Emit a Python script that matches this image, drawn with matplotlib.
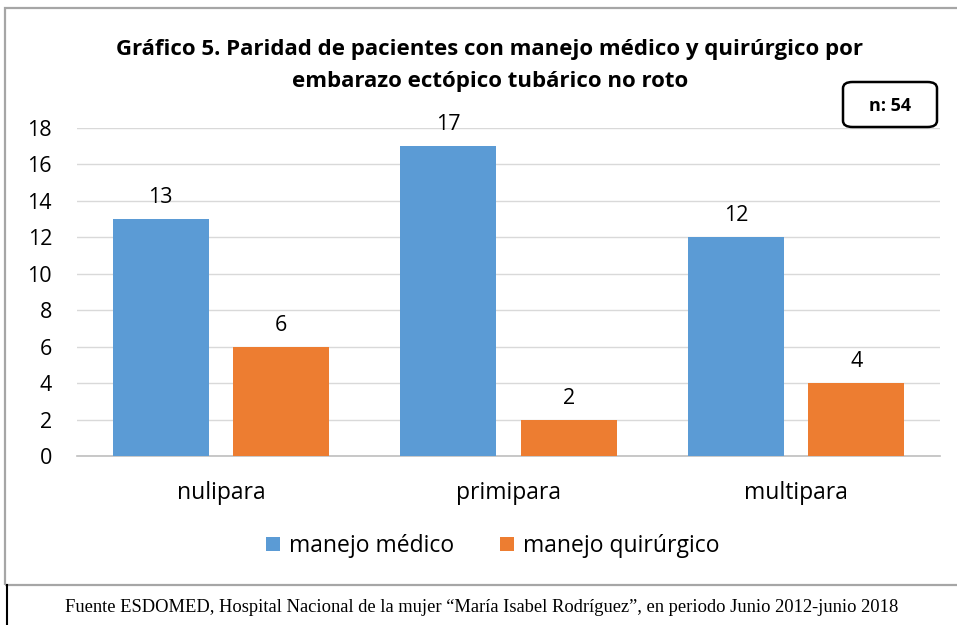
import matplotlib.pyplot as plt
import numpy as np
from matplotlib.patches import FancyBboxPatch, Rectangle
from matplotlib.lines import Line2D

categories = ["nulipara", "primipara", "multipara"]
medico = [13, 17, 12]
quirurgico = [6, 2, 4]
series_labels = ["manejo médico", "manejo quirúrgico"]
yticks = [0, 2, 4, 6, 8, 10, 12, 14, 16, 18]

blue = "#5B9BD5"
orange = "#ED7D31"

W, H = 957, 625
fig = plt.figure(figsize=(W / 100, H / 100), dpi=100)
plt.rcParams["font.family"] = ["Open Sans", "DejaVu Sans"]


def fx(px):
    return px / W


def fy(py):
    return 1 - py / H


# outer chart frame
fig.patches.append(Rectangle((fx(5), fy(585)), fx(960) - fx(5), fy(8) - fy(585),
                             transform=fig.transFigure, fill=False,
                             edgecolor="#A6A6A6", linewidth=1.6))
fig.add_artist(Line2D([fx(7), fx(7)], [fy(585), 0], transform=fig.transFigure,
                      color="black", linewidth=1.5))

ax = fig.add_axes([fx(77), fy(456), fx(940) - fx(77), fy(128) - fy(456)])
x = np.arange(len(categories))
w = 0.334
off = 0.209
b1 = ax.bar(x - off, medico, w, color=blue, label=series_labels[0], zorder=3)
b2 = ax.bar(x + off, quirurgico, w, color=orange, label=series_labels[1], zorder=3)
for bars in (b1, b2):
    for r in bars:
        ax.text(r.get_x() + r.get_width() / 2, r.get_height() + 0.6, f"{int(r.get_height())}",
                ha="center", va="bottom", fontsize=15.5)

ax.set_xlim(-0.5, 2.5)
ax.set_ylim(0, 18)
ax.set_yticks(yticks)
ax.set_xticks(x)
ax.set_xticklabels(categories, fontsize=16.5)
ax.tick_params(axis="y", labelsize=15.5, length=0, pad=18)
ax.tick_params(axis="x", length=0, pad=18)
ax.grid(axis="y", color="#D9D9D9", linewidth=1, zorder=0)
for s in ["top", "right", "left"]:
    ax.spines[s].set_visible(False)
ax.spines["bottom"].set_color("#BFBFBF")
ax.spines["bottom"].set_linewidth(1.2)
ax.set_facecolor("none")

fig.text(fx(490), fy(49), "Gráfico 5. Paridad de pacientes con manejo médico y quirúrgico por",
         ha="center", va="center", fontsize=16, fontweight="bold")
fig.text(fx(490), fy(81), "embarazo ectópico tubárico no roto",
         ha="center", va="center", fontsize=16, fontweight="bold")

box = FancyBboxPatch((fx(843), fy(127)), fx(937) - fx(843), fy(82) - fy(127),
                     boxstyle="round,pad=0,rounding_size=0.01", transform=fig.transFigure,
                     fill=True, facecolor="white", edgecolor="black", linewidth=1.8)
fig.patches.append(box)
fig.text(fx(890), fy(106), "n: 54", ha="center", va="center", fontsize=13, fontweight="bold")

fig.legend(handles=[b1, b2], labels=series_labels, loc="center", bbox_to_anchor=(fx(493), fy(546)),
           ncol=2, frameon=False, fontsize=16.5, handlelength=0.6, handleheight=0.6,
           handletextpad=0.4, columnspacing=2.0)

fig.text(fx(482), fy(607),
         "Fuente ESDOMED, Hospital Nacional de la mujer \u201cMaría Isabel Rodríguez\u201d, en periodo Junio 2012-junio 2018",
         ha="center", va="center", fontsize=13.3, family=["Liberation Serif", "DejaVu Serif"])

fig.savefig("out.png", dpi=100)
